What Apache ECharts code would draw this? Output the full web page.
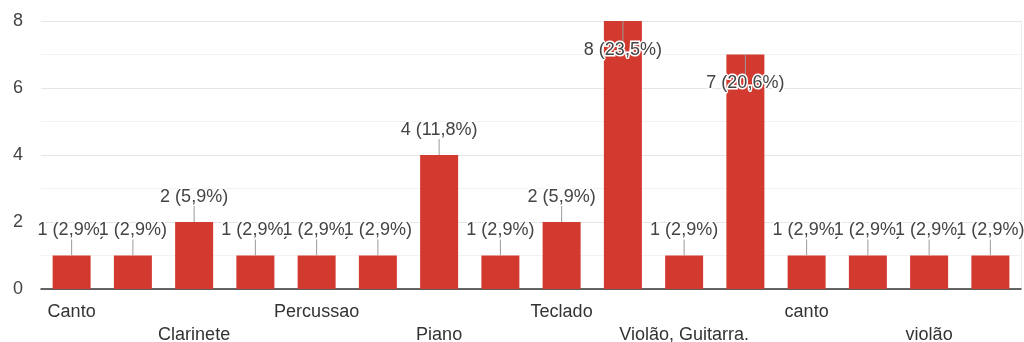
<!DOCTYPE html>
<html>
<head>
<meta charset="utf-8">
<script src="https://cdn.jsdelivr.net/npm/echarts@6/dist/echarts.min.js"></script>
<style>
html,body{margin:0;padding:0;background:#fff;}
#c{width:1024px;height:342px;}
</style>
</head>
<body>
<div id="c"></div>
<script>
const categories = ["Canto", "Cavaquinho", "Clarinete", "Flauta", "Percussao", "Percussão", "Piano", "Saxofone", "Teclado", "Violão", "Violão, Guitarra.", "Violão.", "canto", "teclado", "violão", "violão e canto"];
const counts = [1, 1, 2, 1, 1, 1, 4, 1, 2, 8, 1, 7, 1, 1, 1, 1];
const yTicks = [0, 2, 4, 6, 8];

const total = counts.reduce((a, b) => a + b, 0);
const FONT = '"Liberation Sans", Arial, sans-serif';
const TXT = '#444';
const FS = 18;

function pct(v) {
  return (v / total * 100).toFixed(1).replace('.', ',') + '%';
}

const barData = counts.map(v => {
  const inside = v >= 7;
  return {
    value: v,
    label: inside ? {
      position: 'insideTop',
      distance: 0,
      formatter: '{l|}\n{v|' + v + ' (' + pct(v) + ')}',
      rich: {
        l: {width: 1, height: 20, backgroundColor: '#9a9a9a'},
        v: {fontSize: FS, fontFamily: FONT, color: TXT, textBorderColor: '#fff', textBorderWidth: 3, lineHeight: 18}
      }
    } : {
      position: 'top',
      distance: 0,
      formatter: '{v|' + v + ' (' + pct(v) + ')}\n{l|}',
      rich: {
        v: {fontSize: FS, fontFamily: FONT, color: TXT, textBorderColor: '#fff', textBorderWidth: 3, lineHeight: 18},
        l: {width: 1, height: 16, backgroundColor: '#9a9a9a'}
      }
    }
  };
});

const chart = echarts.init(document.getElementById('c'), null, {renderer: 'canvas'});
chart.setOption({
  animation: false,
  backgroundColor: '#fff',
  grid: {left: 41, right: 3, top: 21, bottom: 53, containLabel: false, outerBoundsMode: 'none'},
  xAxis: {
    type: 'category',
    data: categories,
    boundaryGap: true,
    axisLine: {lineStyle: {color: '#333', width: 1.5}},
    axisTick: {show: false},
    axisLabel: {
      interval: 1,
      margin: 12,
      fontSize: FS,
      fontFamily: FONT,
      color: '#333',
      lineHeight: 23,
      formatter: function (val, idx) {
        return (idx % 4 === 2) ? '\n' + val : val;
      }
    }
  },
  yAxis: [{
    type: 'value',
    min: yTicks[0],
    max: yTicks[yTicks.length - 1],
    interval: 2,
    axisLine: {show: false},
    axisTick: {show: false},
    axisLabel: {margin: 18, fontSize: FS, fontFamily: FONT, color: TXT},
    splitLine: {lineStyle: {color: '#e6e6e6', width: 1}},
    minorTick: {show: false, splitNumber: 2},
    minorSplitLine: {show: true, lineStyle: {color: '#f2f2f2', width: 1}}
  }, {
    type: 'value',
    position: 'right',
    min: yTicks[0],
    max: yTicks[yTicks.length - 1],
    interval: 2,
    axisLine: {show: true, lineStyle: {color: '#ececec', width: 1}},
    axisTick: {show: false},
    axisLabel: {show: false},
    splitLine: {show: false}
  }],
  series: [{
    type: 'bar',
    data: barData,
    barWidth: 38,
    itemStyle: {color: '#d33a2f'},
    label: {show: true, align: 'center'},
    labelLayout: {hideOverlap: false},
    z: 2
  }]
});
</script>
</body>
</html>
